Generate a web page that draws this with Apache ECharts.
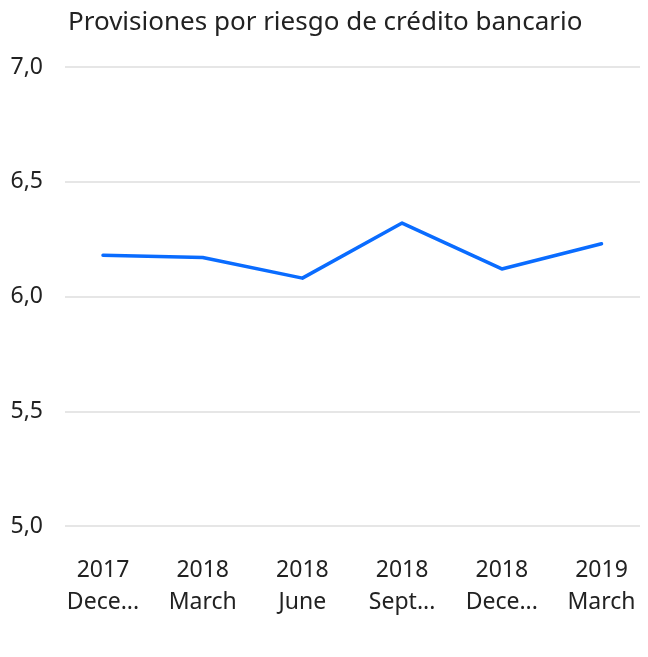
<!DOCTYPE html>
<html>
<head>
<meta charset="utf-8">
<script src="https://cdn.jsdelivr.net/npm/echarts@6/dist/echarts.min.js"></script>
<style>
  html, body { margin: 0; padding: 0; background: #fff; }
  #chart { width: 648px; height: 657px; }
</style>
</head>
<body>
<div id="chart"></div>
<script>
// datos
const periods = ['2017\nDecember', '2018\nMarch', '2018\nJune', '2018\nSeptember', '2018\nDecember', '2019\nMarch']
const provisiones = [6.18, 6.17, 6.08, 6.32, 6.12, 6.23]
const yMin = 5.0
const yMax = 7.0
const yStep = 0.5

const font = '"Noto Sans", "Open Sans", sans-serif'

let myChart = echarts.init(document.getElementById('chart'))

myChart.setOption({
  animation: false,
  title: {
    text: 'Provisiones por riesgo de crédito bancario',
    left: 63,
    top: 5,
    textStyle: { fontFamily: font, fontSize: 26, fontWeight: 'normal', color: '#222' }
  },
  grid: [
    // fondo: lineas de la escala Y
    { left: 65, right: 8, top: 67, height: 459 },
    // serie: categorias centradas en 103..603
    { left: 103, right: 45, top: 67, height: 459 }
  ],
  xAxis: [
    { gridIndex: 0, type: 'category', data: periods, show: false },
    {
      gridIndex: 1,
      type: 'category',
      data: periods,
      boundaryGap: false,
      axisLine: { show: false },
      axisTick: { show: false },
      axisLabel: {
        margin: 28,
        fontFamily: font,
        fontSize: 23,
        lineHeight: 32,
        color: '#222',
        width: 87,
        overflow: 'truncate',
        interval: 0
      }
    }
  ],
  yAxis: [
    {
      gridIndex: 0,
      type: 'value',
      min: yMin,
      max: yMax,
      interval: yStep,
      axisLine: { show: false },
      axisTick: { show: false },
      splitLine: { lineStyle: { color: '#e6e6e6', width: 2 } },
      axisLabel: {
        margin: 22,
        fontFamily: font,
        fontSize: 23,
        color: '#222',
        formatter: v => v.toFixed(1).replace('.', ',')
      }
    },
    { gridIndex: 1, type: 'value', min: yMin, max: yMax, interval: yStep, show: false, splitLine: { show: false } }
  ],
  series: [
    {
      type: 'line',
      xAxisIndex: 1,
      yAxisIndex: 1,
      data: provisiones,
      symbol: 'none',
      lineStyle: { color: '#0a6cff', width: 3.5, cap: 'round', join: 'round' }
    }
  ]
})
</script>
</body>
</html>
